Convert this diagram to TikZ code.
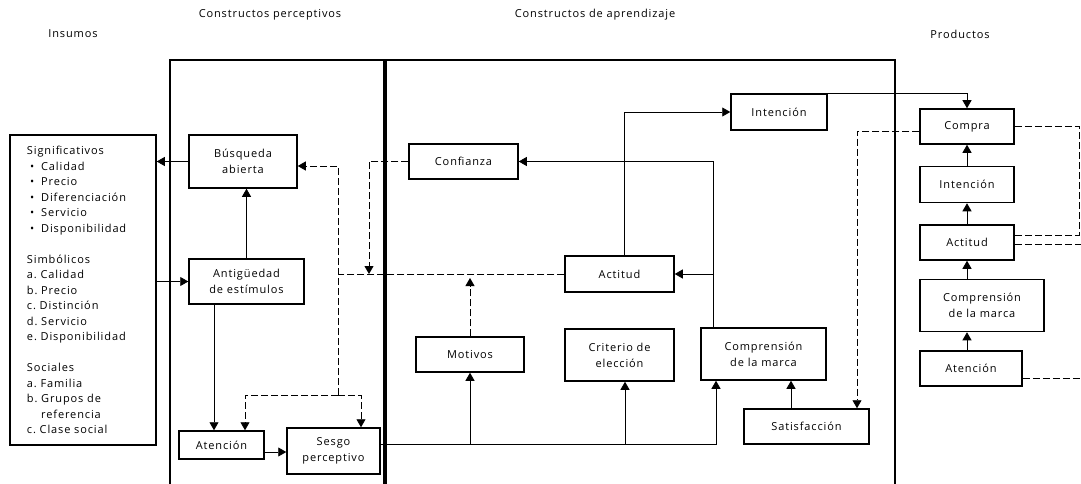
\documentclass[tikz,border=0pt]{standalone}
\usepackage{fontspec}
\setmainfont{Open Sans}[LetterSpace=8.0]
\usetikzlibrary{arrows.meta, positioning}

\begin{document}
\begin{tikzpicture}[x=1pt, y=-1pt, >={Triangle[length=8pt,width=9pt]},
        font=\fontsize{11}{16}\selectfont,
        box/.style={draw, line width=1.5pt, align=center, inner sep=2pt},
        wh/.style 2 args={minimum width=#1pt, minimum height=#2pt},
        line/.style={line width=0.8pt},
        dline/.style={line width=0.8pt, dash pattern=on 7pt off 3pt},
        frame/.style={line width=1.5pt},
        head/.style={font=\fontsize{11}{13}\selectfont}]
    \useasboundingbox (0,0) rectangle (1081,484);

    % titulos
    \node[head] (hins) at (73,34)  {Insumos};
    \node[head] (hper) at (270,15) {Constructos perceptivos};
    \node[head] (hapr) at (595,15) {Constructos de aprendizaje};
    \node[head] (hpro) at (960,34) {Productos};

    % marcos
    \draw[frame] (170,484) |- (895,60) -- (895,484);
    \draw[line width=4pt] (385,60) -- (385,484);

    % insumos
    \node[box, wh={146}{310}, align=left, text width=112pt, inner xsep=17pt,
          font=\fontsize{11}{15.5}\selectfont] (ins) at (83,290)
        {Significativos\\
         \hspace*{3pt}\textbullet\hspace{7pt}Calidad\\
         \hspace*{3pt}\textbullet\hspace{7pt}Precio\\
         \hspace*{3pt}\textbullet\hspace{7pt}Diferenciación\\
         \hspace*{3pt}\textbullet\hspace{7pt}Servicio\\
         \hspace*{3pt}\textbullet\hspace{7pt}Disponibilidad\\[15.5pt]
         Simbólicos\\
         a.~Calidad\\
         b.~Precio\\
         c.~Distinción\\
         d.~Servicio\\
         e.~Disponibilidad\\[15.5pt]
         Sociales\\
         a.~Familia\\
         b.~Grupos~de\\
         \phantom{b.~}referencia\\
         c.~Clase~social};

    % constructos perceptivos
    \node[box, wh={108}{53}]       (busq)  at (243,161.5)   {Búsqueda\\abierta};
    \node[box, wh={115}{45}]       (antig) at (246.5,281.5) {Antigüedad\\de estímulos};
    \node[box, wh={85}{28}]        (atenc) at (221.5,445)   {Atención};
    \node[box, wh={93}{46}]        (sesgo) at (333.5,451)   {Sesgo\\perceptivo};

    % constructos de aprendizaje
    \node[box, wh={109}{35}]       (conf)  at (463.5,161.5) {Confianza};
    \node[box, wh={109}{36}]       (actL)  at (619.5,274)   {Actitud};
    \node[box, wh={96}{36}]        (intL)  at (779,112)     {Intención};
    \node[box, wh={108}{35}]       (motiv) at (470,354.5)   {Motivos};
    \node[box, wh={109}{52}]       (crit)  at (619.5,355)   {Criterio de\\elección};
    \node[box, wh={125}{52}]       (compL) at (763.5,354)   {Comprensión\\de la marca};
    \node[box, wh={125}{35}]       (satis) at (806.5,426.5) {Satisfacción};

    % productos
    \node[box, wh={94}{35}]        (compra) at (967,126.5) {Compra};
    \node[box, wh={94}{36}]        (intP)  [below=21pt of compra] {Intención};
    \node[box, wh={94}{35}]        (actP)  [below=21pt of intP]   {Actitud};
    \node[box, wh={124}{52}]       (compP) [below=18pt of actP.south west, anchor=north west] {Comprensión\\de la marca};
    \node[box, wh={102}{35}]       (atenP) [below=18pt of compP.south west, anchor=north west] {Atención};

    % puntos auxiliares
    \coordinate (a1) at ([xshift=-32.5pt]antig.south);
    \coordinate (a2) at ([yshift=-7pt]atenc.east);
    \coordinate (a3) at ([xshift=23.5pt]atenc.north);
    \coordinate (s1) at ([xshift=27.5pt]sesgo.north);
    \coordinate (b1) at ([yshift=-4.5pt]busq.east);
    \coordinate (dj) at (338,395);
    \coordinate (cf) at (369,0);
    \coordinate (bl) at ([yshift=7pt]sesgo.east);
    \coordinate (c1) at ([xshift=-47.5pt]compL.south);
    \coordinate (c2) at ([xshift=-50.5pt]compL.north);
    \coordinate (k1) at ([xshift=5.5pt]crit.south);
    \coordinate (s2) at ([xshift=-15.5pt]satis.north);
    \coordinate (s3) at ([xshift=50.5pt]satis.north);
    \coordinate (t1) at ([xshift=4.5pt]actL.north);
    \coordinate (p1) at ([yshift=-4.5pt]compra.west);
    \coordinate (ap) at ([yshift=7.5pt]actP.east);
    \coordinate (ap2) at ([yshift=-1.5pt]actP.east);
    \coordinate (at1) at ([yshift=-9.5pt]atenP.east);
    \coordinate (re) at (1079,0);
    \coordinate (rim) at (1081,0);

    % flechas perceptivas
    \draw[line,->] (busq.west) -- (busq.west -| ins.east);
    \draw[line,->] (ins.east |- antig.west) -- (antig.west);
    \draw[line,->] (antig.north) -- (antig.north |- busq.south);
    \draw[line,->] (a1) -- (a1 |- atenc.north);
    \draw[line,->] (a2) -- (a2 -| sesgo.west);
    \draw[dline,->] (dj) -| (a3);
    \draw[dline,->] (dj) -| (s1);
    \draw[dline,->] (dj) |- (b1);
    \draw[dline] (actL.west) -- (actL.west -| dj);
    \draw[dline,->] (conf.west) -| (cf |- actL.west);

    % flechas de aprendizaje
    \draw[dline,->, shorten >=4pt] (motiv.north) -- (motiv.north |- actL.west);
    \draw[line,->] (bl) -| (c1);
    \draw[line,->] (bl -| motiv.south) -- (motiv.south);
    \draw[line,->] (bl -| k1) -- (k1);
    \draw[line,->] (s2) -- (s2 |- compL.south);
    \draw[line,->] (c2) |- (conf.east);
    \draw[line,->] (c2 |- actL.east) -- (actL.east);
    \draw[line,->] (t1) |- (intL.west);
    \draw[line,->] (intL.north east) -| (compra.north);
    \draw[dline,->] (p1) -| (s3);

    % flechas de productos
    \draw[line,->] (intP) -- (compra);
    \draw[line,->] (actP) -- (intP);
    \draw[line,->] (compP.north -| actP) -- (actP);
    \draw[line,->] (atenP.north -| compra) -- (compP.south -| compra);
    \draw[dline] (compra.east) -| (re |- ap) -- (ap);
    \draw[dline] (ap2) -- (ap2 -| rim);
    \draw[dline] (at1) -- (at1 -| rim);
\end{tikzpicture}
\end{document}
